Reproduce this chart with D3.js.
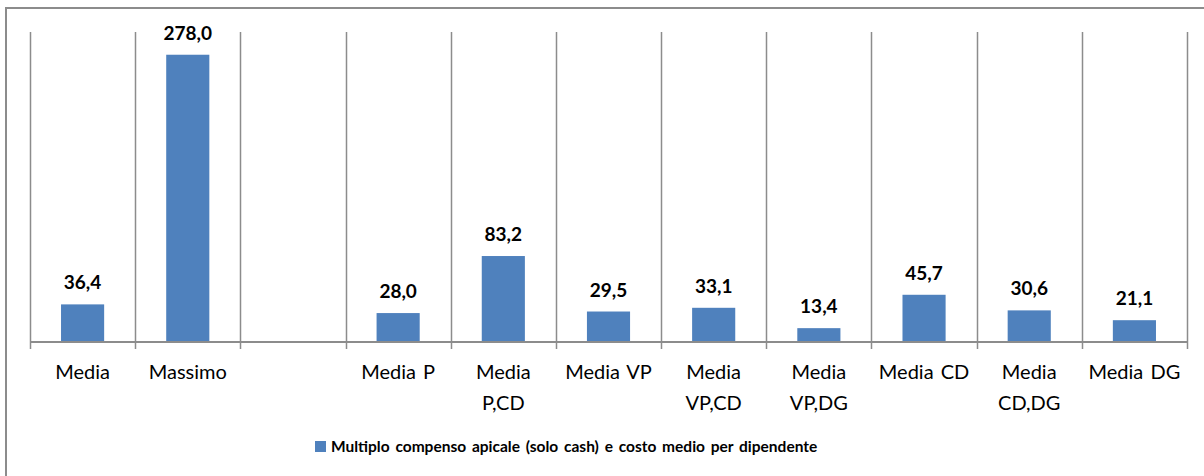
<!DOCTYPE html>
<html>
<head>
<meta charset="utf-8">
<script src="https://cdn.jsdelivr.net/npm/d3@7"></script>
<style>
  body{margin:0;background:#fff;}
  svg{display:block;font-family:Lato,"Open Sans",sans-serif;}
</style>
</head>
<body>
<svg id="chart" width="1204" height="476"></svg>
<script>
// categories (empty slot between Massimo and Media P is part of the original chart)
var categories=["Media","Massimo","","Media P","Media P,CD","Media VP","Media VP,CD","Media VP,DG","Media CD","Media CD,DG","Media DG"];
var tickLabels=[["Media"],["Massimo"],[""],["Media P"],["Media","P,CD"],["Media VP"],["Media","VP,CD"],["Media","VP,DG"],["Media CD"],["Media","CD,DG"],["Media DG"]];
var values=[36.4,278.0,null,28.0,83.2,29.5,33.1,13.4,45.7,30.6,21.1];
var seriesName="Multiplo compenso apicale (solo cash) e costo medio per dipendente";

var svg=d3.select("#chart");
var margin={top:32,left:30,right:17,bottom:134};
var W=1204,H=476;
var blue="#4F81BD", grid="#8c8c8c";

// outer frame (only left + top visible in the reference)
svg.append("rect")
    .attr("x",6).attr("y",8)
    .attr("width",W+20).attr("height",H+20)
    .attr("fill","none").attr("stroke",grid).attr("stroke-width",2);

var x=d3.scaleBand()
    .domain(d3.range(categories.length))
    .range([margin.left,W-margin.right])
    .padding(0);
var y=d3.scaleLinear().domain([0,300]).range([H-margin.bottom,margin.top]);

var base=y(0);
var fmt=d3.formatLocale({decimal:",",thousands:".",grouping:[3],currency:["","€"]}).format(".1f");

// vertical separators between categories
var bounds=d3.range(categories.length+1).map(function(i){
    return i<categories.length ? x(i) : x(i-1)+x.bandwidth();
});
svg.append("g").selectAll("line")
    .data(bounds)
    .join("line")
    .attr("x1",function(d){return Math.round(d)+0.5;})
    .attr("x2",function(d){return Math.round(d)+0.5;})
    .attr("y1",y(300))
    .attr("y2",base+7)
    .attr("stroke",grid).attr("stroke-width",1.5);

// bars
var barW=x.bandwidth()*0.41;
var data=values.map(function(v,i){return {i:i,v:v};}).filter(function(d){return d.v!=null;});
svg.append("g").selectAll("rect")
    .data(data)
    .join("rect")
    .attr("x",function(d){return x(d.i)+(x.bandwidth()-barW)/2;})
    .attr("y",function(d){return y(d.v);})
    .attr("width",barW)
    .attr("height",function(d){return base-y(d.v);})
    .attr("fill",blue);

// value labels
svg.append("g").selectAll("text")
    .data(data)
    .join("text")
    .attr("x",function(d){return x(d.i)+x.bandwidth()/2;})
    .attr("y",function(d){return y(d.v)-15;})
    .attr("text-anchor","middle")
    .attr("font-size",19)
    .attr("font-weight","bold")
    .attr("fill","#000")
    .text(function(d){return fmt(d.v);});

// baseline
svg.append("line")
    .attr("x1",bounds[0]).attr("x2",bounds[bounds.length-1])
    .attr("y1",base).attr("y2",base)
    .attr("stroke",grid).attr("stroke-width",2);

// category labels
var lab=svg.append("g").selectAll("text")
    .data(tickLabels)
    .join("text")
    .attr("x",function(d,i){return x(i)+x.bandwidth()/2;})
    .attr("y",base+37)
    .attr("text-anchor","middle")
    .attr("font-size",20)
    .attr("word-spacing",2)
    .attr("fill","#000");
lab.selectAll("tspan")
    .data(function(d){return d;})
    .join("tspan")
    .attr("x",function(){return this.parentNode.getAttribute("x");})
    .attr("dy",function(d,j){return j?31:0;})
    .text(function(d){return d;});

// legend
var lg=svg.append("g");
lg.append("rect")
    .attr("x",315).attr("y",441)
    .attr("width",11).attr("height",11)
    .attr("fill",blue);
lg.append("text")
    .attr("x",331).attr("y",452)
    .attr("font-size",15.5)
    .attr("font-weight","bold")
    .attr("word-spacing",2)
    .attr("fill","#000")
    .text(seriesName);
</script>
</body>
</html>
